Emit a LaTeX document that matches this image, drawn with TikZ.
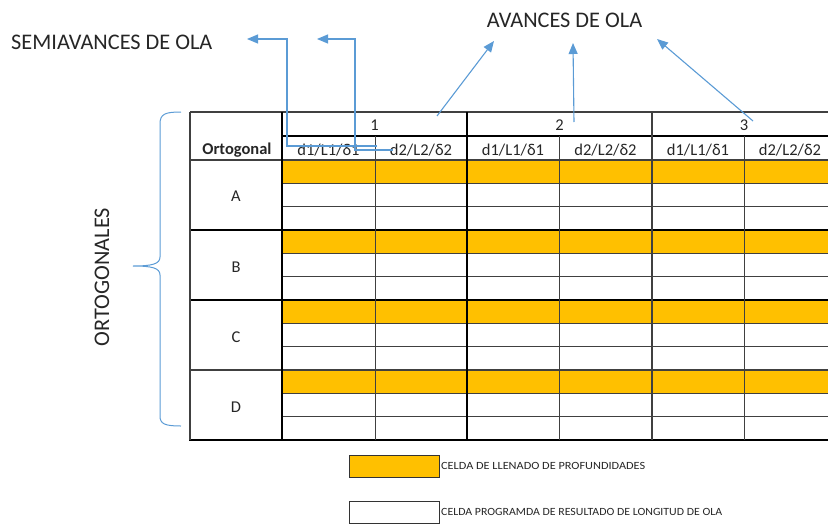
\documentclass[tikz,border=0pt]{standalone}
\usepackage{fontspec}
\setmainfont{Carlito}
\usetikzlibrary{arrows.meta}
\definecolor{wblue}{RGB}{91,155,213}
\definecolor{worange}{RGB}{255,192,0}
\definecolor{txt}{RGB}{38,38,38}
\begin{document}
\begin{tikzpicture}[x=1pt,y=-1pt,
  thickline/.style={line width=2pt,black},
  medline/.style={line width=1.4pt,black!75},
  thinline/.style={line width=1pt,black!75},
  celltext/.style={font=\fontsize{16.5}{18}\selectfont,text=txt,inner sep=0pt},
  bigtext/.style={font=\fontsize{22.3}{25}\selectfont,text=txt,inner sep=0pt},
  arr/.style={wblue,line width=1.1pt,-{Triangle[length=11pt,width=9pt]}},
  legbox/.style={draw=black!80,line width=1pt,minimum width=90pt,minimum height=22pt,inner sep=0pt},
  legtext/.style={font=\fontsize{11}{12}\selectfont,text=txt,inner sep=0pt,anchor=west}]
\useasboundingbox (0,0) rectangle (828,525);
\clip (0,0) rectangle (828,525);
% orange rows
\foreach \y in {160,230,300,370}
  \fill[worange] (282,\y) rectangle (840,\y+23.33);
% thin sub-row lines
\foreach \y in {160,230,300,370}{
  \draw[thinline] (282,\y+23.33) -- (840,\y+23.33);
  \draw[thinline] (282,\y+46.67) -- (840,\y+46.67);
}
% horizontal main lines
\draw[medline] (190,112) -- (840,112);
\draw[thickline] (282,136) -- (840,136);
\draw[medline] (190,160) -- (840,160);
\draw[thickline] (190,230) -- (840,230);
\draw[thickline] (190,300) -- (840,300);
\draw[medline] (190,370) -- (840,370);
\draw[thickline] (189,440) -- (840,440);
% verticals
\draw[medline] (190,112) -- (190,440);
\draw[thickline] (282,112) -- (282,441);
\draw[thinline] (375,136) -- (375,440);
\draw[thickline] (467,112) -- (467,441);
\draw[thinline] (559,136) -- (559,440);
\draw[medline] (652,112) -- (652,440);
\draw[thinline] (744,136) -- (744,440);
% header texts
\node[celltext] (orto) at (237,150) {\textbf{Ortogonal}};
\node[celltext] (g1) at (374.5,125) {1};
\node[celltext] (g2) at (559.5,125) {2};
\node[celltext] (g3) at (744,125) {3};
\node[celltext] (c1) at (328.5,150) {d1/L1/δ1};
\node[celltext] (c2) at (421,150) {d2/L2/δ2};
\node[celltext] (c3) at (513,150) {d1/L1/δ1};
\node[celltext] (c4) at (605.5,150) {d2/L2/δ2};
\node[celltext] (c5) at (698,150) {d1/L1/δ1};
\node[celltext] (c6) at (790,150) {d2/L2/δ2};
\node[celltext] (ra) at (236,196) {A};
\node[celltext] (rb) at (236,267) {B};
\node[celltext] (rc) at (236,337) {C};
\node[celltext] (rd) at (236,407) {D};
% big labels
\node[bigtext,anchor=west] (semi) at (11,42) {SEMIAVANCES DE OLA};
\node[bigtext] (avan) at (564.5,20) {AVANCES DE OLA};
\node[bigtext,rotate=90] (ortos) at (102,277) {ORTOGONALES};
% brace
\draw[wblue,line width=1pt] (181,112) .. controls (165,112) and (160,114) .. (160,124)
  -- (160,257) .. controls (160,264) and (152,266) .. (133,266)
  .. controls (152,266) and (160,268) .. (160,275)
  -- (160,416) .. controls (160,424) and (165,426) .. (181,426);
% elbow arrows
\coordinate (s1) at (377,146); \coordinate (b1) at (287,39); \coordinate (t1) at (247,39);
\coordinate (s2) at (393,150); \coordinate (b2) at (355,39); \coordinate (t2) at (317,39);
\draw[arr] (s1) -| (b1) -- (t1);
\draw[arr] (s2) -| (b2) -- (t2);
% straight arrows
\coordinate (a1s) at (437,116); \coordinate (a1t) at (494,41);
\coordinate (a2s) at (574,122); \coordinate (a2t) at (573,43);
\coordinate (a3s) at (753,121); \coordinate (a3t) at (657,39);
\draw[arr] (a1s) -- (a1t);
\draw[arr] (a2s) -- (a2t);
\draw[arr] (a3s) -- (a3t);
% legend
\node[legbox,fill=worange] (lb1) at (394,466) {};
\node[legbox,fill=white] (lb2) at (394,512) {};
\node[legtext] (lt1) at (441,466) {\resizebox{204pt}{\height}{CELDA DE LLENADO DE PROFUNDIDADES}};
\node[legtext] (lt2) at (441,512) {\resizebox{281pt}{\height}{CELDA PROGRAMDA DE RESULTADO DE  LONGITUD DE OLA}};
\end{tikzpicture}
\end{document}
